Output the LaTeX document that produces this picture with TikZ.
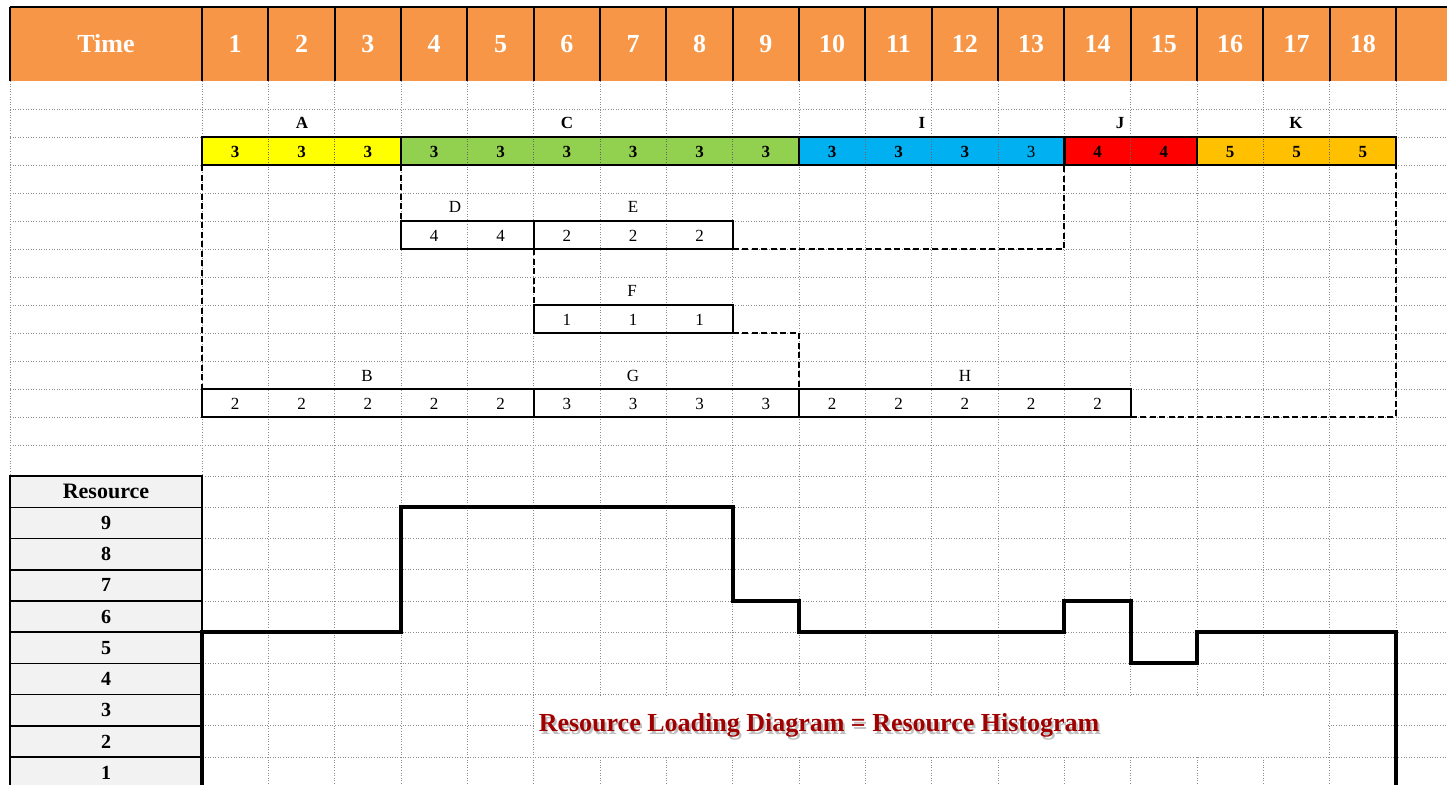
\documentclass[tikz,border=0pt]{standalone}
\usepackage{fontspec}
\setmainfont{Liberation Serif}
\definecolor{hdr}{HTML}{F79646}
\definecolor{cA}{HTML}{FFFF00}
\definecolor{cC}{HTML}{92D050}
\definecolor{cI}{HTML}{00B0F0}
\definecolor{cJ}{HTML}{FF0000}
\definecolor{cK}{HTML}{FFC000}
\definecolor{resfill}{HTML}{F2F2F2}
\definecolor{titlered}{HTML}{A00000}
\definecolor{gridc}{HTML}{8C8C8C}
\def\cw{66.333}
\begin{document}
\begin{tikzpicture}[x=1pt,y=-1pt,
  gridline/.style={gridc, line width=0.8pt, dash pattern=on 1pt off 1.6pt},
  hdrtxt/.style={text=white, font=\bfseries\fontsize{26}{30}\selectfont, inner sep=0pt},
  bar/.style={draw=black, line width=2.6pt, inner sep=0pt, outer sep=0pt, minimum height=28pt},
  wbox/.style={draw=black, line width=1.8pt, inner sep=0pt, outer sep=0pt, minimum height=28pt},
  num/.style={font=\fontsize{17}{20}\selectfont, inner sep=0pt},
  bnum/.style={font=\bfseries\fontsize{17}{20}\selectfont, inner sep=0pt},
  lbl/.style={font=\fontsize{17}{20}\selectfont, inner sep=0pt},
  blbl/.style={font=\bfseries\fontsize{17}{20}\selectfont, inner sep=0pt},
  conn/.style={line width=2.2pt, dash pattern=on 6pt off 3.5pt},
  hist/.style={line width=4pt, line join=miter},
  rescell/.style={draw=black, line width=1.5pt, fill=resfill, minimum width=192pt, minimum height=31.2pt, inner sep=0pt, outer sep=0pt, font=\bfseries\fontsize{20}{24}\selectfont},
  titletxt/.style={font=\bfseries\fontsize{26}{30}\selectfont, inner sep=0pt}
]
\useasboundingbox (0,0) rectangle (1447,784);
\clip (0,0) rectangle (1447,784);
\fill[white] (0,0) rectangle (1447,784);

% ---------- grid ----------
\foreach \i in {0,...,18} \draw[gridline] ({202+\i*\cw},81) -- ({202+\i*\cw},790);
\draw[gridline] (10,81) -- (10,476);
\foreach \k in {1,...,13} \draw[gridline] (10,{81+28*\k}) -- (1447,{81+28*\k});
\foreach \k in {1,...,11} \draw[gridline] (10,{445+31.2*\k}) -- (1447,{445+31.2*\k});
% merged title cell
\fill[white] (535.2,696) rectangle (1328.3,755.6);

% ---------- header ----------
\fill[hdr] (10,7) rectangle (1447,81);
\draw[line width=1.6pt] (10,7) -- (1447,7);
\draw[line width=1.8pt] (10,7) -- (10,81);
\foreach \i in {0,...,18} \draw[line width=1.8pt] ({202+\i*\cw},7) -- ({202+\i*\cw},81);
\node[hdrtxt] (hTime) at (106,44) {Time};
\foreach \i in {1,...,18} \node[hdrtxt] (h\i) at ({202+(\i-0.5)*\cw},44) {\i};

% ---------- top task bar ----------
\node[bar, fill=cA, minimum width={3*\cw}] (A) at ({202+1.5*\cw},151) {};
\node[bar, fill=cC, minimum width={6*\cw}] (C) at ({202+6*\cw},151) {};
\node[bar, fill=cI, minimum width={4*\cw}] (I) at ({202+11*\cw},151) {};
\node[bar, fill=cJ, minimum width={2*\cw}] (J) at ({202+14*\cw},151) {};
\node[bar, fill=cK, minimum width={3*\cw}] (K) at ({202+16.5*\cw},151) {};
\foreach \i in {1,2,4,5,6,7,8,10,11,12,14,16,17}
  \draw[gridline, black!60] ({202+\i*\cw},138.5) -- ({202+\i*\cw},163.5);
\node[blbl] (lA) at (302,123) {A};
\node[blbl] (lC) at (567,123) {C};
\node[blbl] (lI) at (922,123) {I};
\node[blbl] (lJ) at (1120,123) {J};
\node[blbl] (lK) at (1296,123) {K};
\foreach \c/\v in {1/3,2/3,3/3,4/3,5/3,6/3,7/3,8/3,9/3,10/3,11/3,12/3,14/4,15/4,16/5,17/5,18/5}
  \node[bnum] (t\c) at ({202+(\c-0.5)*\cw},152) {\v};
\node[num] (t13) at ({202+12.5*\cw},152) {3};

% ---------- activity boxes ----------
\node[wbox, minimum width={2*\cw}] (D) at ({202+4*\cw},235) {};
\node[wbox, minimum width={3*\cw}] (E) at ({202+6.5*\cw},235) {};
\node[wbox, minimum width={3*\cw}] (F) at ({202+6.5*\cw},319) {};
\node[wbox, minimum width={5*\cw}] (B) at ({202+2.5*\cw},403) {};
\node[wbox, minimum width={4*\cw}] (G) at ({202+7*\cw},403) {};
\node[wbox, minimum width={5*\cw}] (H) at ({202+11.5*\cw},403) {};

\node[lbl] (lD) at (455,207) {D};
\node[lbl] (lE) at (633,207) {E};
\node[lbl] (lF) at (632,291) {F};
\node[lbl] (lB) at (367,376) {B};
\node[lbl] (lG) at (633,376) {G};
\node[lbl] (lH) at (965,376) {H};

\foreach \c/\v in {4/4,5/4,6/2,7/2,8/2}
  \node[num] (de\c) at ({202+(\c-0.5)*\cw},236) {\v};
\foreach \c in {6,7,8}
  \node[num] (f\c) at ({202+(\c-0.5)*\cw},320) {1};
\foreach \c/\v in {1/2,2/2,3/2,4/2,5/2,6/3,7/3,8/3,9/3,10/2,11/2,12/2,13/2,14/2}
  \node[num] (bgh\c) at ({202+(\c-0.5)*\cw},404) {\v};

% ---------- dependency connectors ----------
\draw[conn] (A.south west) -- (B.north west);
\draw[conn] (C.south west) -- (D.north west);
\draw[conn] (E.south east) -- (E.south east -| J.south west) -- (J.south west);
\draw[conn] (D.south east) -- (F.north west);
\draw[conn] (F.south east) -- (F.south east -| G.north east) -- (G.north east);
\draw[conn] (H.south east) -- (H.south east -| K.south east) -- (K.south east);

% ---------- resource column ----------
\node[rescell, font=\bfseries\fontsize{22}{26}\selectfont] (res0) at (106,{476.2+15.6}) {Resource};
\foreach \k in {1,...,9} {
  \pgfmathtruncatemacro{\lev}{10-\k}
  \node[rescell] (res\k) at (106,{476.2+31.2*\k+15.6}) {\lev};
}

% ---------- histogram ----------
\draw[hist] (202,790) -- (202,632.2) -- ({202+3*\cw},632.2) -- ({202+3*\cw},507.4)
  -- ({202+8*\cw},507.4) -- ({202+8*\cw},601) -- ({202+9*\cw},601) -- ({202+9*\cw},632.2)
  -- ({202+13*\cw},632.2) -- ({202+13*\cw},601) -- ({202+14*\cw},601) -- ({202+14*\cw},663.4)
  -- ({202+15*\cw},663.4) -- ({202+15*\cw},632.2) -- ({202+18*\cw},632.2) -- ({202+18*\cw},790);

% ---------- title ----------
\node[titletxt, text=black!25] (titleshadow) at (821,728) {Resource Loading Diagram = Resource Histogram};
\node[titletxt, text=titlered] (title) at (819,725.5) {Resource Loading Diagram = Resource Histogram};
\end{tikzpicture}
\end{document}
